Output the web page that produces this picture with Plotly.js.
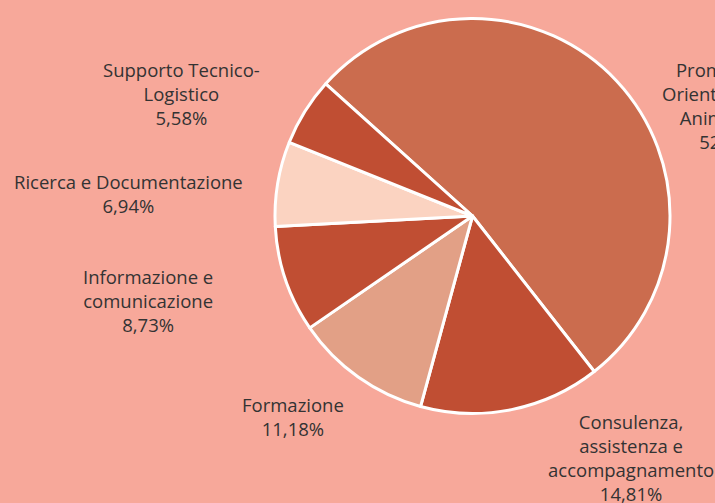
<!DOCTYPE html>
<html>
<head>
<meta charset="utf-8">
<script src="https://cdn.plot.ly/plotly-3.0.1.min.js"></script>
<style>
  html, body { margin: 0; padding: 0; background: #F7A89A; }
  #pie_chart { width: 715px; height: 503px; }
</style>
</head>
<body>
<div id="pie_chart"></div>
<script>
/// Pie chart - aree di attività

var categories = [
    'Promozione, Orientamento e Animazione',
    'Consulenza, assistenza e accompagnamento',
    'Formazione',
    'Informazione e comunicazione',
    'Ricerca e Documentazione',
    'Supporto Tecnico-Logistico'
];
var labelLines = [
    'Promozione,<br>Orientamento e<br>Animazione',
    'Consulenza,<br>assistenza e<br>accompagnamento',
    'Formazione',
    'Informazione e<br>comunicazione',
    'Ricerca e Documentazione',
    'Supporto Tecnico-<br>Logistico'
];
var percentages = [52.76, 14.81, 11.18, 8.73, 6.94, 5.58];

var sliceColors = ['#CB6C4E', '#C04E33', '#E2A086', '#C04E33', '#FBD3C1', '#C04E33'];

// label centres in pixels (layout only)
var labelPos = [[730, 105], [631, 457], [293, 416], [148, 300], [128, 193], [182, 93]];

var W = 715, H = 503;

var pie = {
    type: 'pie',
    labels: categories,
    values: percentages,
    sort: false,
    direction: 'clockwise',
    rotation: -48,
    textinfo: 'none',
    hoverinfo: 'label+percent',
    marker: {
        colors: sliceColors,
        line: {color: '#FFFFFF', width: 3}
    },
    domain: {x: [275 / W, 670 / W], y: [1 - 414 / H, 1 - 18 / H]},
    showlegend: false
};

var notes = categories.map(function (c, i) {
    return {
        xref: 'paper', yref: 'paper',
        x: labelPos[i][0] / W,
        y: 1 - labelPos[i][1] / H,
        xanchor: 'center', yanchor: 'middle',
        align: 'center',
        showarrow: false,
        text: labelLines[i] + '<br>' + percentages[i].toFixed(2).replace('.', ',') + '%',
        font: {family: 'Open Sans, sans-serif', size: 18.5, color: '#333333'}
    };
});

var layout = {
    width: W,
    height: H,
    margin: {l: 0, r: 0, t: 0, b: 0},
    paper_bgcolor: '#F7A89A',
    plot_bgcolor: '#F7A89A',
    annotations: notes
};

Plotly.newPlot('pie_chart', [pie], layout, {displayModeBar: false, staticPlot: true});
</script>
</body>
</html>
